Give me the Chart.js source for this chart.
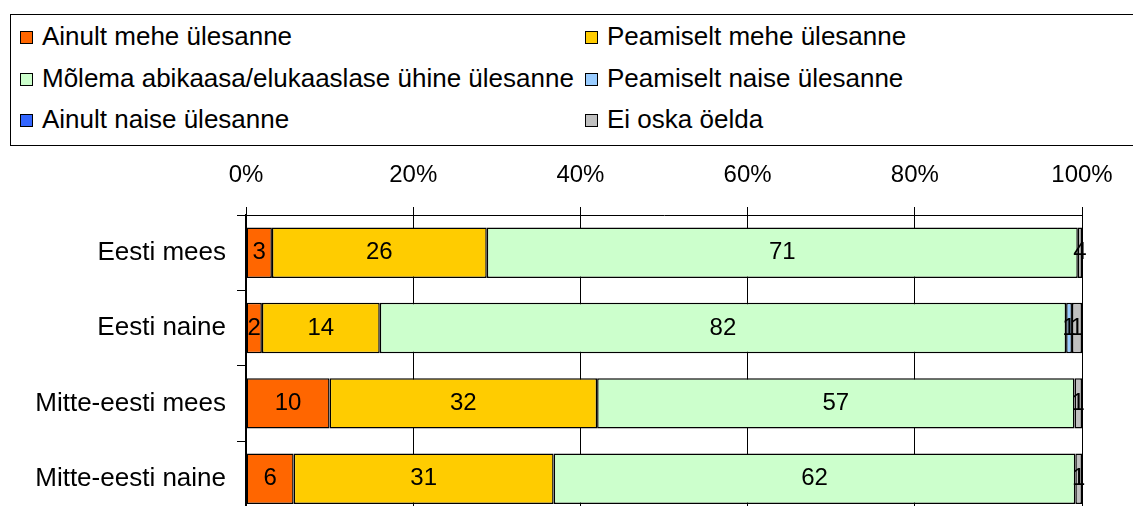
<!DOCTYPE html>
<html>
<head>
<meta charset="utf-8">
<script src="https://cdn.jsdelivr.net/npm/chart.js@4"></script>
<style>
  html, body { margin: 0; padding: 0; background: #fff; width: 1133px; height: 506px; overflow: hidden; position: relative; font-family: "Liberation Sans", Arial, sans-serif; }
  #legend { position: absolute; left: 10px; top: 14px; width: 1130px; height: 132px; border: 1px solid #000; box-sizing: border-box; }
  .item { position: absolute; font-size: 26px; color: #000; white-space: nowrap; line-height: 30px; }
  .item span.box { display: inline-block; width: 11px; height: 11px; border: 1px solid #000; margin-right: 9px; vertical-align: 1px; }
  #chart { position: absolute; left: 0; top: 150px; }
</style>
</head>
<body>
<div id="legend"></div>
<canvas id="chart" width="1133" height="393"></canvas>
<script>
// kategooriad
const kategooriad = ['Eesti mees', 'Eesti naine', 'Mitte-eesti mees', 'Mitte-eesti naine'];

// seeriad (%)
const ainultMehe = [3.1, 1.9, 10, 5.7];
const peamiseltMehe = [25.7, 14.1, 32, 31.1];
const molemaUhine = [70.7, 82.1, 57.1, 62.4];
const peamiseltNaise = [0, 0.7, 0, 0];
const ainultNaise = [0, 0, 0, 0];
const eiOska = [0.5, 1.2, 0.9, 0.8];

// kuvatavad sildid (kui erinevad ümardatud väärtusest)
const eiOskaSildid = ['4', '1', '1', '1'];
const xTicks = ['0%', '20%', '40%', '60%', '80%', '100%'];

const SERIES = [
    { label: 'Ainult mehe ülesanne', data: ainultMehe, color: '#FF6600' },
    { label: 'Peamiselt mehe ülesanne', data: peamiseltMehe, color: '#FFCC00' },
    { label: 'Mõlema abikaasa/elukaaslase ühine ülesanne', data: molemaUhine, color: '#CCFFCC' },
    { label: 'Peamiselt naise ülesanne', data: peamiseltNaise, color: '#99CCFF' },
    { label: 'Ainult naise ülesanne', data: ainultNaise, color: '#3366FF' },
    { label: 'Ei oska öelda', data: eiOska, color: '#C0C0C0', labels: eiOskaSildid }
];

// --- legend (2 veergu) ---
const legendEl = document.getElementById('legend');
const colX = [9, 574];
const rowY = [6, 48, 89];
SERIES.forEach((s, i) => {
    const d = document.createElement('div');
    d.className = 'item';
    d.style.left = colX[i % 2] + 'px';
    d.style.top = rowY[Math.floor(i / 2)] + 'px';
    d.innerHTML = '<span class="box" style="background:' + s.color + '"></span>' + s.label;
    legendEl.appendChild(d);
});

// väärtuste sildid ribade sees
const barLabels = {
    id: 'barLabels',
    afterDatasetsDraw(chart) {
        const c = chart.ctx;
        c.save();
        c.font = '24px "Liberation Sans", Arial, sans-serif';
        c.fillStyle = '#000';
        c.textAlign = 'center';
        c.textBaseline = 'middle';
        chart.data.datasets.forEach((ds, di) => {
            chart.getDatasetMeta(di).data.forEach((bar, i) => {
                const v = ds.data[i];
                if (!v) return;
                const txt = ds.valueLabels ? ds.valueLabels[i] : String(Math.round(v));
                const cx = (bar.x + bar.base) / 2;
                c.fillText(txt, cx, bar.y);
            });
        });
        c.restore();
    }
};

const ctx = document.getElementById('chart').getContext('2d');
new Chart(ctx, {
    type: 'bar',
    data: {
        labels: kategooriad,
        datasets: SERIES.map(s => ({
            label: s.label,
            data: s.data,
            valueLabels: s.labels,
            backgroundColor: s.color,
            borderColor: '#000',
            borderWidth: 1.5,
            borderSkipped: false,
            barPercentage: 0.67,
            categoryPercentage: 1
        }))
    },
    options: {
        indexAxis: 'y',
        responsive: false,
        animation: false,
        layout: { padding: { top: 0, right: 51, bottom: 0, left: 0 } },
        plugins: { legend: { display: false }, tooltip: { enabled: false } },
        scales: {
            x: {
                position: 'top',
                stacked: true,
                min: 0,
                max: 100,
                afterFit: scale => { scale.height = 65; },
                grid: { color: '#000', drawTicks: true, tickLength: 8, lineWidth: 1 },
                border: { display: true, color: '#000', width: 1 },
                ticks: {
                    stepSize: 20,
                    padding: 17,
                    color: '#000',
                    font: { size: 24, family: '"Liberation Sans", Arial, sans-serif' },
                    callback: (v, i) => xTicks[i]
                }
            },
            y: {
                stacked: true,
                afterFit: scale => { scale.width = 246; },
                grid: { offset: true, drawOnChartArea: false, drawTicks: true, tickLength: 9, color: '#000', lineWidth: 1 },
                border: { display: true, color: '#000', width: 1.5 },
                ticks: {
                    padding: 11,
                    color: '#000',
                    font: { size: 26, family: '"Liberation Sans", Arial, sans-serif' }
                }
            }
        }
    },
    plugins: [barLabels]
});
</script>
</body>
</html>
